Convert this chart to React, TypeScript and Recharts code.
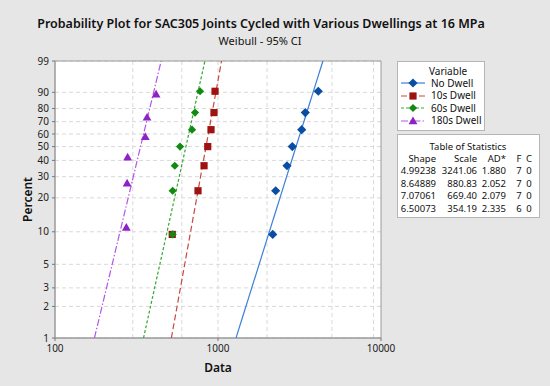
import React from 'react';
import { ComposedChart, Scatter, XAxis, YAxis, CartesianGrid, ReferenceArea } from 'recharts';

// ---- data ----
const percentN7 = [9.46, 22.97, 36.49, 50.0, 63.51, 77.03, 90.54];
const percentN6 = [10.94, 26.56, 42.19, 57.81, 73.44, 89.06];
const noDwellCycles = [2166, 2259, 2650, 2857, 3263, 3432, 4123];
const dwell10Cycles = [524, 754, 821, 865, 906, 945, 959];
const dwell60Cycles = [527, 527, 543, 585, 693, 723, 776];
const dwell180Cycles = [274, 277, 279, 358, 367, 417];

const seriesNames = ['No Dwell', '10s Dwell', '60s Dwell', '180s Dwell'];
const shapeParams = [4.99238, 8.64889, 7.07061, 6.50073];
const scaleParams = [3241.06, 880.83, 669.4, 354.19];
const tableHeaders = ['Shape', 'Scale', 'AD*', 'F', 'C'];
const shapeLabels = ['4.99238', '8.64889', '7.07061', '6.50073'];
const scaleLabels = ['3241.06', '880.83', '669.40', '354.19'];
const adLabels = ['1.880', '2.052', '2.079', '2.335'];
const fLabels = ['7', '7', '7', '6'];
const cLabels = ['0', '0', '0', '0'];

const percentTicks = [1, 2, 3, 5, 10, 20, 30, 40, 50, 60, 70, 80, 90, 99];
const xTickValues = [100, 1000, 10000];
const xGridValues = [200, 300, 400, 500, 600, 700, 800, 900, 1000, 2000, 3000, 4000, 5000, 6000, 7000, 8000, 9000];
const fitPercentRange = [1, 99];

// ---- styles ----
const markerColors = ['#0a4ea3', '#9e1212', '#118a11', '#8e22c6'];
const lineColors = ['#3d7fd6', '#c8483f', '#34a834', '#b257e6'];
const lineDashes = ['', '6 3', '3 2', '7 2 1.5 2'];
const FONT = '"Noto Sans", "Open Sans", sans-serif';

// Weibull probability-paper transform
const wt = (p: number) => Math.log(-Math.log(1 - p / 100));
const yTickVals = percentTicks.map(wt);

const mkPoints = (xs: number[], ps: number[]) => xs.map((x, i) => ({ x, y: wt(ps[i]) }));
const pointSets = [
  mkPoints(noDwellCycles, percentN7),
  mkPoints(dwell10Cycles, percentN7),
  mkPoints(dwell60Cycles, percentN7),
  mkPoints(dwell180Cycles, percentN6),
];
const fitSets = shapeParams.map((b, i) =>
  fitPercentRange.map((p) => ({ x: scaleParams[i] * Math.pow(-Math.log(1 - p / 100), 1 / b), y: wt(p) }))
);

const drawMarker = (kind: number, color: string, cx: number, cy: number, key?: any) => {
  if (kind === 0) {
    const r = 4.6;
    return <polygon key={key} points={`${cx},${cy - r} ${cx + r},${cy} ${cx},${cy + r} ${cx - r},${cy}`} fill={color} />;
  }
  if (kind === 1) {
    const r = 3.6;
    return <rect key={key} x={cx - r} y={cy - r} width={2 * r} height={2 * r} fill={color} />;
  }
  if (kind === 2) {
    const r = 4.1;
    return <polygon key={key} points={`${cx},${cy - r} ${cx + r},${cy} ${cx},${cy + r} ${cx - r},${cy}`} fill={color} />;
  }
  const s = 4.4;
  return <polygon key={key} points={`${cx},${cy - s} ${cx + s},${cy + s * 0.75} ${cx - s},${cy + s * 0.75}`} fill={color} />;
};

const markerShape = (kind: number) => (props: any) => {
  const { cx, cy } = props;
  if (cx == null || cy == null) return <g />;
  return drawMarker(kind, markerColors[kind], cx, cy);
};

const noShape = () => <g />;

const pct = (v: number) => {
  const idx = yTickVals.findIndex((t) => Math.abs(t - v) < 1e-9);
  return idx >= 0 ? String(percentTicks[idx]) : '';
};

const abs = (extra: React.CSSProperties): React.CSSProperties => ({ position: 'absolute', whiteSpace: 'nowrap', ...extra });

// table column anchors: right-aligned (r) or centred (c)
const colAnchors: { r?: number; c?: number }[] = [{ r: 436 }, { r: 477 }, { r: 506 }, { c: 519 }, { c: 529 }];

export default function App() {
  const tickStyle = { fontSize: 10, fill: '#222', fontFamily: FONT };
  const rows = [tableHeaders].concat(shapeLabels.map((s, i) => [s, scaleLabels[i], adLabels[i], fLabels[i], cLabels[i]]));
  return (
    <div style={{ position: 'absolute', left: 0, top: 0 }}>
      <div style={{ position: 'relative', width: 550, height: 386, background: '#e6e6e6', fontFamily: FONT, color: '#111' }}>
        <div style={abs({ left: 0, width: 522, top: 15, textAlign: 'center', fontSize: 12.5, fontWeight: 600 })}>
          Probability Plot for SAC305 Joints Cycled with Various Dwellings at 16 MPa
        </div>
        <div style={abs({ left: 0, width: 520, top: 33, textAlign: 'center', fontSize: 11 })}>Weibull - 95% CI</div>

        <ComposedChart width={550} height={386} margin={{ top: 61, right: 169, bottom: 0, left: 0 }} style={{ position: 'absolute', left: 0, top: 0 }}>
          <CartesianGrid
            fill="#ffffff"
            stroke="#d9d9d9"
            strokeDasharray="4 3"
            verticalValues={xGridValues}
            horizontalValues={yTickVals}
          />
          <XAxis
            type="number"
            dataKey="x"
            scale="log"
            domain={[100, 10000]}
            ticks={xTickValues}
            allowDataOverflow
            height={48}
            tickSize={3}
            tickMargin={4}
            tick={tickStyle}
            axisLine={{ stroke: '#9a9a9a' }}
            tickLine={{ stroke: '#777' }}
          />
          <YAxis
            type="number"
            dataKey="y"
            domain={[yTickVals[0], yTickVals[yTickVals.length - 1]]}
            ticks={yTickVals}
            tickFormatter={pct}
            allowDataOverflow
            width={55}
            tickSize={3}
            tickMargin={3}
            tick={tickStyle}
            axisLine={{ stroke: '#9a9a9a' }}
            tickLine={{ stroke: '#777' }}
            interval={0}
          />
          <ReferenceArea
            x1={100}
            x2={10000}
            y1={yTickVals[0]}
            y2={yTickVals[yTickVals.length - 1]}
            fill="none"
            fillOpacity={0}
            stroke="#9a9a9a"
            strokeWidth={1}
            ifOverflow="visible"
          />
          {fitSets.map((d, i) => (
            <Scatter
              key={'fit' + i}
              data={d}
              shape={noShape}
              line={{ stroke: lineColors[i], strokeWidth: 1.2, strokeDasharray: lineDashes[i] }}
              isAnimationActive={false}
            />
          ))}
          {pointSets.map((d, i) => (
            <Scatter key={'pts' + i} data={d} shape={markerShape(i)} isAnimationActive={false} />
          ))}
        </ComposedChart>

        <div style={abs({ left: 218 - 40, width: 80, top: 359, textAlign: 'center', fontSize: 12, fontWeight: 600 })}>Data</div>
        <div style={abs({ left: 27 - 40, width: 80, top: 191, textAlign: 'center', fontSize: 12, fontWeight: 600, transform: 'rotate(-90deg)' })}>
          Percent
        </div>

        {/* legend */}
        <div style={abs({ left: 397, top: 61, width: 86, height: 68, background: '#fff', border: '1px solid #b5b5b5' })} />
        <div style={abs({ left: 429, top: 66.3, fontSize: 10, lineHeight: '11px' })}>Variable</div>
        {seriesNames.map((n, i) => (
          <React.Fragment key={n}>
            <svg style={abs({ left: 400, top: 78 + i * 12.5 })} width={26} height={10}>
              <line x1={1} y1={5} x2={25} y2={5} stroke={lineColors[i]} strokeWidth={1.2} strokeDasharray={lineDashes[i]} />
              {drawMarker(i, markerColors[i], 13, 5)}
            </svg>
            <div style={abs({ left: 431, top: 77.5 + i * 12.5, fontSize: 10, lineHeight: '11px' })}>{n}</div>
          </React.Fragment>
        ))}

        {/* table of statistics */}
        <div style={abs({ left: 397, top: 134, width: 141, height: 82, background: '#fff', border: '1px solid #b5b5b5' })} />
        <div style={abs({ left: 397, width: 142, top: 141, textAlign: 'center', fontSize: 9.5, lineHeight: '11px' })}>Table of Statistics</div>
        {rows.map((row, r) =>
          row.map((cell, c) => {
            const a = colAnchors[c];
            const top = 153 + r * 12.4;
            const style =
              a.r != null
                ? abs({ right: 550 - a.r, top, fontSize: 9.5, lineHeight: '11px' })
                : abs({ left: a.c, top, fontSize: 9.5, lineHeight: '11px', transform: 'translateX(-50%)' });
            return (
              <span key={r + '-' + c} style={style}>
                {cell}
              </span>
            );
          })
        )}
      </div>
    </div>
  );
}
